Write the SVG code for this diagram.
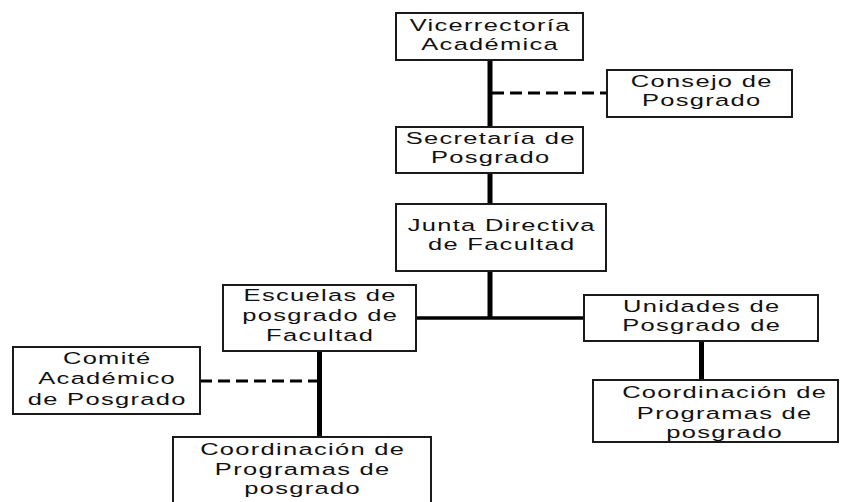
<svg xmlns="http://www.w3.org/2000/svg" width="841" height="502" viewBox="0 0 841 502">
<style>
.box{fill:#fff;stroke:#1a1a1a;stroke-width:2}
.lbl{font-family:"Liberation Sans",Arial,sans-serif;font-size:17px;fill:#111;text-anchor:middle;letter-spacing:0.87px}
.solid{stroke:#000;stroke-width:5;fill:none}
.hline{stroke:#000;stroke-width:3.5;fill:none}
.dash{stroke:#000;stroke-width:3;stroke-dasharray:12 6;fill:none}
</style>
<rect width="841" height="502" fill="#fff"/>
<g id="connectors">
<line class="solid" x1="490" y1="60" x2="490" y2="127"/>
<line class="solid" x1="490" y1="173" x2="490" y2="204"/>
<line class="solid" x1="490" y1="271" x2="490" y2="318"/>
<line class="hline" x1="416" y1="318" x2="584" y2="318"/>
<line class="dash" x1="492" y1="93" x2="607" y2="93"/>
<line class="solid" x1="319.5" y1="351" x2="319.5" y2="437"/>
<line class="dash" x1="200" y1="381" x2="318" y2="381"/>
<line class="solid" x1="701.5" y1="341" x2="701.5" y2="380"/>
</g>
<g id="vicerrectoria">
<rect class="box" x="396" y="13" width="187" height="47"/>
<text class="lbl" transform="matrix(1.5 0 0 1 490.2 0)"><tspan x="0" y="31.5">Vicerrectoría</tspan><tspan x="0" y="50.5">Académica</tspan></text>
</g>
<g id="consejo">
<rect class="box" x="607" y="70" width="185" height="47"/>
<text class="lbl" transform="matrix(1.5 0 0 1 701.7 0)"><tspan x="0" y="87.5">Consejo de</tspan><tspan x="0" y="106.5">Posgrado</tspan></text>
</g>
<g id="secretaria">
<rect class="box" x="396" y="127" width="187" height="46"/>
<text class="lbl" transform="matrix(1.5 0 0 1 490.7 0)"><tspan x="0" y="144.5">Secretaría de</tspan><tspan x="0" y="163.5">Posgrado</tspan></text>
</g>
<g id="junta">
<rect class="box" x="396" y="204" width="210" height="67"/>
<text class="lbl" transform="matrix(1.5 0 0 1 501.7 0)"><tspan x="0" y="231">Junta Directiva</tspan><tspan x="0" y="250">de Facultad</tspan></text>
</g>
<g id="escuelas">
<rect class="box" x="223" y="285" width="193" height="66"/>
<text class="lbl" transform="matrix(1.5 0 0 1 320.2 0)"><tspan x="0" y="301">Escuelas de</tspan><tspan x="0" y="321">posgrado de</tspan><tspan x="0" y="341.5">Facultad</tspan></text>
</g>
<g id="unidades">
<rect class="box" x="584" y="295" width="234" height="46"/>
<text class="lbl" transform="matrix(1.5 0 0 1 701.7 0)"><tspan x="0" y="312.5">Unidades de</tspan><tspan x="0" y="331.5">Posgrado de</tspan></text>
</g>
<g id="comite">
<rect class="box" x="13" y="347" width="187" height="67"/>
<text class="lbl" transform="matrix(1.5 0 0 1 107.2 0)"><tspan x="0" y="364">Comité</tspan><tspan x="0" y="384.5">Académico</tspan><tspan x="0" y="405">de Posgrado</tspan></text>
</g>
<g id="coordinacion-derecha">
<rect class="box" x="593" y="380" width="245" height="62"/>
<text class="lbl" transform="matrix(1.5 0 0 1 724.7 0)"><tspan x="0" y="398.5">Coordinación de</tspan><tspan x="0" y="419">Programas de</tspan><tspan x="0" y="438.5">posgrado</tspan></text>
</g>
<g id="coordinacion-izquierda">
<rect class="box" x="173" y="437" width="258" height="80"/>
<text class="lbl" transform="matrix(1.5 0 0 1 302.7 0)"><tspan x="0" y="455">Coordinación de</tspan><tspan x="0" y="475.5">Programas de</tspan><tspan x="0" y="494.5">posgrado</tspan></text>
</g>
</svg>
